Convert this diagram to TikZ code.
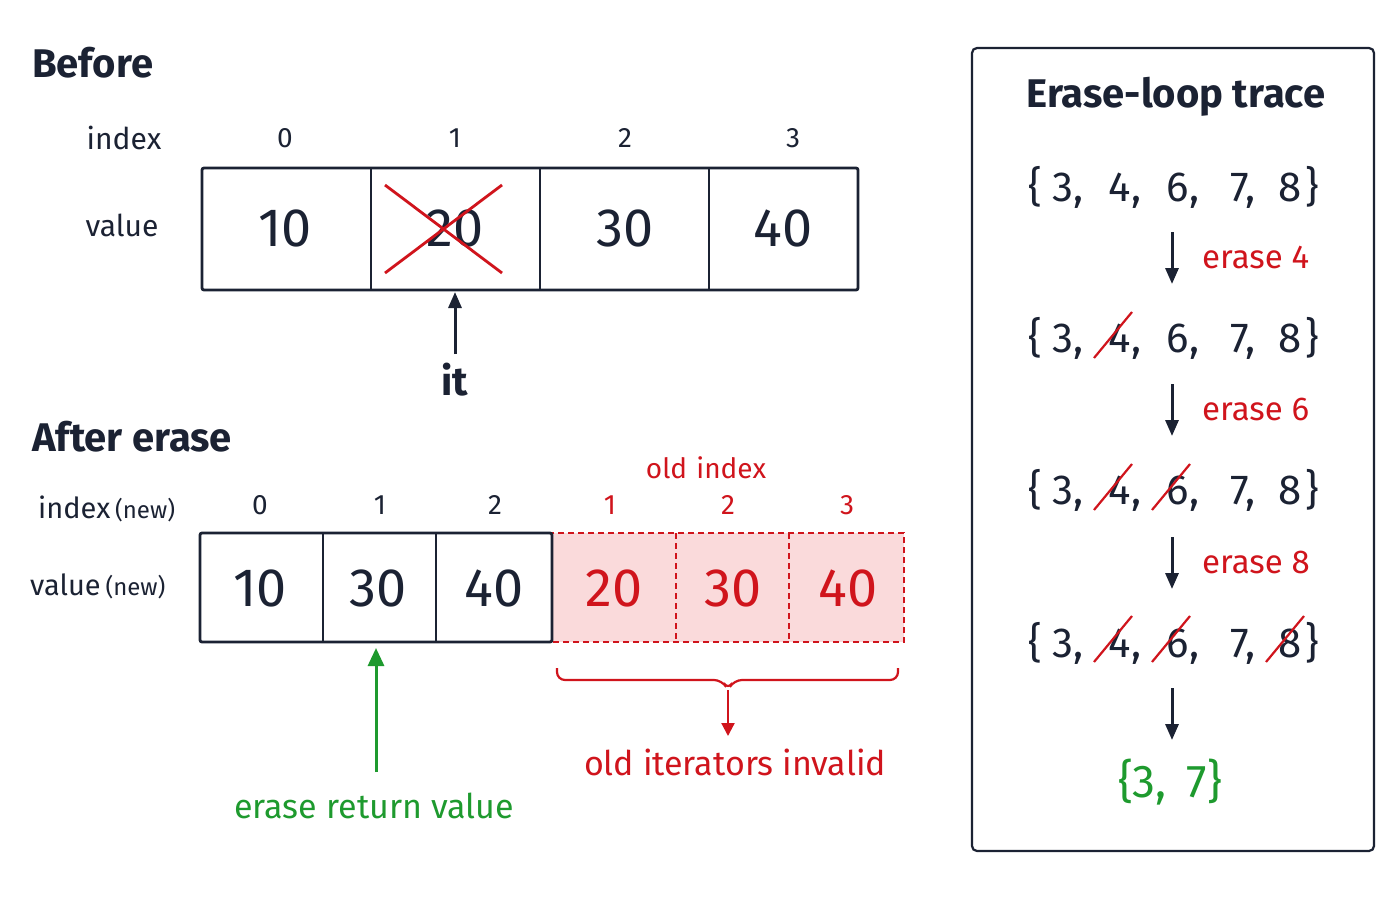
\documentclass[tikz,border=0pt]{standalone}
\usepackage{fontspec}
\setmainfont{Fira Sans}
\usetikzlibrary{arrows.meta,decorations.pathreplacing}
\definecolor{ink}{HTML}{1B2233}
\definecolor{rd}{HTML}{D0141C}
\definecolor{gr}{HTML}{1E9A2E}
\definecolor{pinkfill}{HTML}{FADADB}
\newcommand{\fs}[1]{\fontsize{#1}{#1}\selectfont}
\tikzset{
  every node/.style={text=ink,inner sep=0pt},
  title/.style={font=\fs{40}\bfseries,anchor=west},
  lab/.style={font=\fs{30}},
  idx/.style={font=\fs{28}},
  val/.style={font=\fs{54}},
  cell/.style={draw=ink,line width=2.8pt},
  oldcell/.style={draw=rd,dash pattern=on 6pt off 4pt,line width=1.6pt,fill=pinkfill},
  setx/.style={font=\fs{42},anchor=base},
  strike/.style={draw=rd,line width=2.2pt},
  arr/.style={-{Triangle[length=16pt,width=13pt]},line width=3pt,draw=ink},
}
\begin{document}
\begin{tikzpicture}[x=1pt,y=-1pt]
\useasboundingbox[fill=white] (0,0) rectangle (1400,900);
% Before
\node[title] (tb) at (32,63) {Before};
\node[lab] (li) at (124,138) {index};
\node[lab] (lv) at (122,225) {value};
\foreach \x/\n in {285/0,455/1,625/2,793/3} \node[idx] (bi\n) at (\x,138) {\n};
\draw[cell,rounded corners=2pt] (202,168) rectangle (858,290);
\foreach \x in {371,540,709} \draw[cell] (\x,168) -- (\x,290);
\foreach \x/\v/\n in {285/10/0,455/20/1,625/30/2,783/40/3} \node[val] (bv\n) at (\x,228) {\v};
\draw[strike,line width=2.8pt] (385,185) -- (502,273) (385,273) -- (502,185);
\node[font=\fs{40}\bfseries] (it) at (455,380) {it};
\coordinate (itp) at (455,292);
\draw[arr] (455,354) -- (itp);
% After
\node[title] (ta) at (32,437) {After erase};
\node[font=\fs{29},anchor=west] (lin) at (38,509) {index\,{\fs{24}(new)}};
\node[font=\fs{29},anchor=west] (lvn) at (30,586) {value\,{\fs{24}(new)}};
\foreach \x/\n in {260/0,380/1,495/2} \node[idx] (ai\n) at (\x,505) {\n};
\node[font=\fs{28},text=rd] (oi) at (706,468) {old\,\,index};
\foreach \x/\n in {610/1,728/2,847/3} \node[idx,text=rd] (oi\n) at (\x,505) {\n};
\draw[oldcell] (552,533) rectangle (904,642);
\foreach \x in {676,789} \draw[draw=rd,dash pattern=on 6pt off 4pt,line width=1.6pt] (\x,533) -- (\x,642);
\draw[cell,rounded corners=2pt] (200,533) rectangle (552,642);
\foreach \x in {323,436} \draw[cell] (\x,533) -- (\x,642);
\foreach \x/\v/\n in {260/10/0,378/30/1,494/40/2} \node[val] (av\n) at (\x,588) {\v};
\foreach \x/\v/\n in {614/20/3,733/30/4,848/40/5} \node[val,text=rd] (av\n) at (\x,588) {\v};
\node[font=\fs{34},text=gr] (erv) at (374,806) {erase return value};
\coordinate (ga) at (376,648);
\draw[-{Triangle[length=18pt,width=16pt]},line width=3pt,draw=gr] (376,772) -- (ga);
\draw[draw=rd,line width=2.2pt,rounded corners=8pt] (557,668) -- (557,680) -- (722,680) -- (728,690) -- (734,680) -- (898,680) -- (898,668);
\node[font=\fs{34},text=rd] (oii) at (735,762) {old iterators invalid};
\coordinate (bt) at (728,690);
\draw[-{Triangle[length=13pt,width=13pt]},line width=2.2pt,draw=rd] (bt) -- (728,736);
% Right panel
\draw[draw=ink,line width=2.2pt,rounded corners=5pt] (972,48) rectangle (1374,851);
\node[font=\fs{40}\bfseries] (rt) at (1176,97) {Erase-loop trace};
\foreach \y/\k in {201/1,352/2,504/3,657/4}{
  \node[setx] (s\k a) at (1035,\y) {\{};
  \node[setx] (s\k b) at (1068,\y) {3,};
  \node[setx] (s\k c) at (1125,\y) {4,};
  \node[setx] (s\k d) at (1183,\y) {6,};
  \node[setx] (s\k e) at (1243,\y) {7,};
  \node[setx] (s\k f) at (1290,\y) {8};
  \node[setx] (s\k g) at (1312,\y) {\}};
}
\foreach \k in {2,3,4} \draw[strike] (1094,358) ++(0,{(\k-2)*152}) -- ++(38,-46);
\foreach \k in {3,4} \draw[strike] (1152,358) ++(0,{(\k-2)*152}) -- ++(38,-46);
\draw[strike] (1266,662) -- ++(38,-46);
\foreach \y/\t in {232/4,384/6,537/8}{
  \draw[arr] (1172,\y) -- (1172,\y+52);
  \node[font=\fs{33},text=rd,anchor=west] at (1202,\y+25) {erase \t};
}
\draw[arr] (1172,688) -- (1172,740);
\node[font=\fs{46},text=gr] (fin) at (1170,782) {\{3,\, 7\}};
\end{tikzpicture}
\end{document}
